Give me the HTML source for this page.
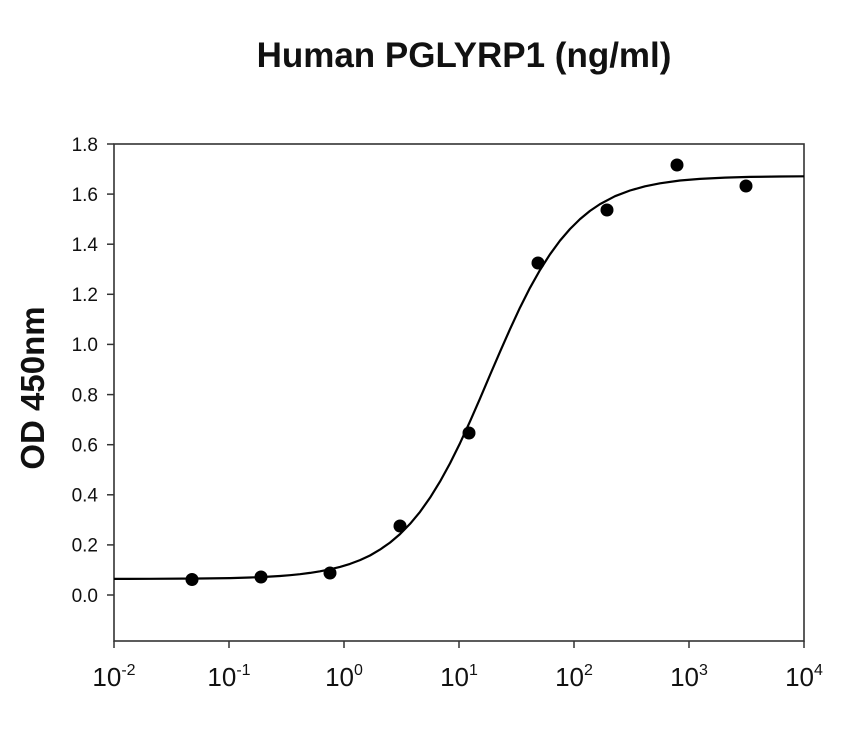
<!DOCTYPE html>
<html>
<head>
<meta charset="utf-8">
<style>
html,body{margin:0;padding:0;background:#fff;}
svg{display:block;}
text{font-family:"Liberation Sans",Arial,sans-serif;fill:#111;}
</style>
</head>
<body>
<svg width="857" height="751" viewBox="0 0 857 751" xmlns="http://www.w3.org/2000/svg">
  <rect width="857" height="751" fill="#fff"/>
  <!-- Title -->
  <text x="464" y="67" text-anchor="middle" font-size="35" font-weight="bold">Human PGLYRP1 (ng/ml)</text>
  <!-- Y axis label -->
  <text transform="translate(44,388) rotate(-90)" text-anchor="middle" font-size="33" font-weight="bold">OD 450nm</text>

  <!-- Frame -->
  <rect x="114" y="144" width="690" height="497" fill="none" stroke="#333" stroke-width="1.6"/>

  <!-- Y ticks -->
  <g stroke="#333" stroke-width="1.5">
    <line x1="107" y1="144" x2="114" y2="144"/>
    <line x1="107" y1="194.1" x2="114" y2="194.1"/>
    <line x1="107" y1="244.2" x2="114" y2="244.2"/>
    <line x1="107" y1="294.3" x2="114" y2="294.3"/>
    <line x1="107" y1="344.4" x2="114" y2="344.4"/>
    <line x1="107" y1="394.6" x2="114" y2="394.6"/>
    <line x1="107" y1="444.7" x2="114" y2="444.7"/>
    <line x1="107" y1="494.8" x2="114" y2="494.8"/>
    <line x1="107" y1="544.9" x2="114" y2="544.9"/>
    <line x1="107" y1="595" x2="114" y2="595"/>
  </g>
  <g font-size="19" text-anchor="end">
    <text x="98" y="150.8">1.8</text>
    <text x="98" y="200.9">1.6</text>
    <text x="98" y="251.0">1.4</text>
    <text x="98" y="301.1">1.2</text>
    <text x="98" y="351.2">1.0</text>
    <text x="98" y="401.4">0.8</text>
    <text x="98" y="451.5">0.6</text>
    <text x="98" y="501.6">0.4</text>
    <text x="98" y="551.7">0.2</text>
    <text x="98" y="601.8">0.0</text>
  </g>

  <!-- X ticks -->
  <g stroke="#333" stroke-width="1.5">
    <line x1="114" y1="641" x2="114" y2="648"/>
    <line x1="229" y1="641" x2="229" y2="648"/>
    <line x1="344" y1="641" x2="344" y2="648"/>
    <line x1="459" y1="641" x2="459" y2="648"/>
    <line x1="574" y1="641" x2="574" y2="648"/>
    <line x1="689" y1="641" x2="689" y2="648"/>
    <line x1="804" y1="641" x2="804" y2="648"/>
  </g>
  <g font-size="26" text-anchor="middle">
    <text x="114" y="686">10<tspan font-size="16" dy="-11">-2</tspan></text>
    <text x="229" y="686">10<tspan font-size="16" dy="-11">-1</tspan></text>
    <text x="344" y="686">10<tspan font-size="16" dy="-11">0</tspan></text>
    <text x="459" y="686">10<tspan font-size="16" dy="-11">1</tspan></text>
    <text x="574" y="686">10<tspan font-size="16" dy="-11">2</tspan></text>
    <text x="689" y="686">10<tspan font-size="16" dy="-11">3</tspan></text>
    <text x="804" y="686">10<tspan font-size="16" dy="-11">4</tspan></text>
  </g>

  <!-- Fitted curve -->
  <polyline fill="none" stroke="#000" stroke-width="2.2" stroke-linejoin="round"
    points="114,578.9 150,578.8 200,578.5 230,578.1 250,577.5 265,576.9 280,576.0 290,575.2 300,574.2 310,572.9 320,571.3 330,569.3 340,566.9 350,563.9 360,560.1 370,555.5 380,549.6 390,542.6 400,534.1 410,523.9 420,511.9 430,497.8 440,481.6 450,463.4 460,443.2 470,421.4 480,398.6 490,375.0 500,351.8 510,329.2 520,307.6 530,287.8 540,270.0 550,254.3 560,240.6 570,229.0 580,219.1 590,210.9 600,204.1 615,196.2 630,190.5 645,186.3 660,183.3 680,180.5 700,178.9 725,177.6 750,176.9 780,176.5 804,176.3"/>

  <!-- Data points -->
  <g fill="#000">
    <circle cx="192" cy="579.5" r="6.5"/>
    <circle cx="261" cy="577" r="6.5"/>
    <circle cx="330" cy="573" r="6.5"/>
    <circle cx="400" cy="526" r="6.5"/>
    <circle cx="469" cy="433" r="6.5"/>
    <circle cx="538" cy="263" r="6.5"/>
    <circle cx="607" cy="210" r="6.5"/>
    <circle cx="677" cy="165" r="6.5"/>
    <circle cx="746" cy="186" r="6.5"/>
  </g>
</svg>
</body>
</html>
